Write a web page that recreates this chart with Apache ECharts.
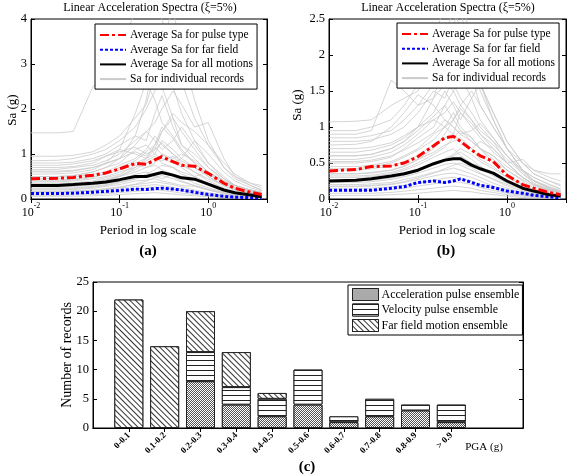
<!DOCTYPE html>
<html><head><meta charset="utf-8">
<script src="https://cdn.jsdelivr.net/npm/echarts@6/dist/echarts.min.js"></script>
<style>html,body{margin:0;padding:0;background:#fff}#c{width:568px;height:476px}</style>
</head><body><div id="c"></div>
<script>
// ---------- DATA ----------
const periods = [0.01,0.02,0.03,0.05,0.07,0.1,0.15,0.2,0.25,0.3,0.4,0.5,0.7,1,1.5,2,3,4];

// panel (a)
const avgPulseA = [0.45,0.46,0.48,0.53,0.58,0.67,0.79,0.77,0.87,0.94,0.83,0.75,0.73,0.57,0.35,0.24,0.15,0.10];
const avgFarA   = [0.12,0.12,0.13,0.15,0.17,0.19,0.22,0.21,0.23,0.24,0.22,0.20,0.15,0.10,0.06,0.04,0.03,0.02];
const avgAllA   = [0.30,0.30,0.32,0.35,0.38,0.43,0.50,0.50,0.55,0.59,0.53,0.47,0.44,0.33,0.20,0.14,0.09,0.05];
const recordsA = [
 [1.47,1.47,1.5,2.5,2.7,3.2,4.2,4.5,4.3,4.0,3.2,2.6,1.8,1.2,0.7,0.5,0.35,0.25],
 [0.85,0.86,0.9,1.0,1.1,1.3,1.6,2.0,2.4,2.9,2.5,1.9,1.3,0.8,0.45,0.3,0.18,0.12],
 [0.8,0.8,0.82,0.9,1.0,1.2,1.4,1.3,1.9,2.3,1.6,1.2,1.0,0.7,0.4,0.25,0.15,0.1],
 [0.7,0.7,0.72,0.8,0.95,1.1,1.9,2.6,2.2,1.7,1.4,1.1,0.8,0.5,0.3,0.2,0.12,0.08],
 [0.65,0.66,0.7,0.75,0.85,1.0,1.3,1.5,1.7,2.0,2.4,2.1,1.6,1.7,0.9,0.5,0.3,0.2],
 [0.6,0.6,0.62,0.7,0.8,0.9,1.2,1.5,1.3,1.1,1.3,1.6,1.2,0.8,0.5,0.3,0.2,0.15],
 [0.55,0.56,0.58,0.65,0.8,1.1,1.0,0.9,1.2,1.5,1.8,1.2,0.9,0.6,0.35,0.25,0.15,0.1],
 [0.5,0.5,0.52,0.6,0.7,0.8,1.1,1.2,1.0,0.9,0.8,0.9,1.3,1.0,0.6,0.4,0.25,0.18],
 [0.45,0.46,0.48,0.55,0.6,0.75,0.9,1.1,1.4,1.2,1.0,0.8,0.6,0.4,0.25,0.15,0.1,0.06],
 [0.42,0.42,0.44,0.5,0.55,0.65,0.8,0.9,1.0,1.3,1.1,0.9,0.7,0.5,0.3,0.2,0.12,0.08],
 [0.38,0.38,0.4,0.45,0.5,0.6,0.7,0.85,0.95,0.8,0.7,0.6,0.5,0.6,0.4,0.3,0.2,0.14],
 [0.35,0.35,0.36,0.4,0.48,0.55,0.75,0.7,0.8,1.0,0.85,0.7,0.5,0.35,0.2,0.12,0.08,0.05],
 [0.3,0.3,0.32,0.36,0.42,0.5,0.6,0.7,0.75,0.65,0.55,0.5,0.45,0.3,0.2,0.14,0.09,0.06],
 [0.27,0.27,0.28,0.31,0.35,0.42,0.55,0.6,0.5,0.45,0.55,0.5,0.35,0.25,0.15,0.1,0.06,0.04],
 [0.24,0.24,0.25,0.28,0.32,0.38,0.45,0.5,0.55,0.6,0.5,0.4,0.3,0.2,0.12,0.08,0.05,0.03],
 [0.2,0.2,0.21,0.24,0.28,0.32,0.4,0.42,0.45,0.4,0.35,0.3,0.28,0.2,0.12,0.08,0.05,0.03],
 [0.17,0.17,0.18,0.2,0.23,0.27,0.32,0.35,0.38,0.36,0.32,0.27,0.2,0.14,0.09,0.06,0.04,0.02],
 [0.14,0.14,0.15,0.17,0.2,0.24,0.28,0.3,0.32,0.3,0.26,0.22,0.17,0.11,0.07,0.05,0.03,0.02],
 [0.11,0.11,0.12,0.13,0.15,0.18,0.22,0.25,0.27,0.25,0.22,0.18,0.13,0.09,0.06,0.04,0.02,0.01],
 [0.08,0.08,0.09,0.1,0.12,0.14,0.17,0.19,0.2,0.19,0.16,0.13,0.1,0.07,0.04,0.03,0.02,0.01],
 [0.06,0.06,0.06,0.07,0.08,0.1,0.12,0.13,0.14,0.13,0.11,0.09,0.07,0.05,0.03,0.02,0.01,0.01],
 [0.95,0.95,0.97,1.05,1.2,1.4,1.8,2.1,2.8,3.5,4.2,3.3,2.2,1.3,0.7,0.45,0.3,0.2],
 [0.5,0.5,0.52,0.6,0.7,0.9,1.4,2.2,3.3,2.5,1.8,1.5,1.1,0.7,0.45,0.3,0.2,0.14],
 [0.3,0.3,0.31,0.35,0.4,0.5,0.7,0.9,1.1,1.5,1.9,1.7,1.5,1.2,0.8,0.55,0.35,0.3],
 [0.75,0.75,0.78,0.85,0.95,1.05,1.15,1.0,1.1,1.25,1.0,0.85,0.7,0.55,0.35,0.22,0.14,0.1],
 [0.62,0.62,0.64,0.7,0.78,0.9,1.05,0.95,1.15,1.0,0.9,1.0,0.85,0.6,0.4,0.3,0.2,0.15],
 [0.4,0.4,0.42,0.48,0.56,0.7,0.85,1.05,1.2,1.6,1.35,1.05,0.8,0.55,0.35,0.25,0.16,0.11],
 [0.33,0.33,0.34,0.38,0.44,0.52,0.65,0.8,0.9,0.85,0.95,0.75,0.6,0.45,0.3,0.2,0.13,0.09],
 [0.22,0.22,0.23,0.26,0.3,0.36,0.44,0.55,0.65,0.75,0.7,0.55,0.45,0.32,0.2,0.14,0.09,0.06],
 [0.16,0.16,0.17,0.19,0.22,0.26,0.33,0.4,0.48,0.52,0.45,0.38,0.3,0.22,0.14,0.1,0.06,0.04]
];

// panel (b)
const avgPulseB = [0.39,0.41,0.45,0.46,0.50,0.59,0.74,0.85,0.87,0.80,0.68,0.60,0.52,0.33,0.20,0.15,0.09,0.06];
const avgFarB   = [0.12,0.12,0.12,0.15,0.17,0.23,0.25,0.23,0.25,0.28,0.23,0.19,0.16,0.11,0.08,0.05,0.03,0.01];
const avgAllB   = [0.25,0.26,0.28,0.32,0.35,0.40,0.49,0.54,0.56,0.56,0.47,0.42,0.36,0.25,0.15,0.11,0.06,0.04];
const recordsB = [
 [1.07,1.08,1.1,1.3,1.4,1.5,1.9,2.3,2.6,2.4,2.0,1.6,1.1,0.7,0.4,0.3,0.2,0.14],
 [0.9,0.9,0.95,1.65,1.5,1.3,1.4,1.6,1.5,1.3,1.1,0.9,0.7,0.5,0.3,0.2,0.12,0.08],
 [0.85,0.85,0.88,0.95,1.1,1.3,1.6,1.8,1.6,1.4,1.2,1.0,0.8,0.5,0.3,0.2,0.12,0.08],
 [0.8,0.8,0.82,0.9,1.0,1.2,1.5,1.4,1.7,2.1,1.7,1.3,1.0,0.7,0.4,0.25,0.15,0.1],
 [0.65,0.65,0.68,0.75,0.85,1.0,1.2,1.5,1.3,1.1,1.4,1.6,1.2,0.8,0.5,0.35,0.25,0.2],
 [0.6,0.6,0.62,0.7,0.8,0.95,1.15,1.3,1.5,1.7,1.4,1.1,0.85,0.6,0.35,0.22,0.14,0.1],
 [0.55,0.55,0.58,0.65,0.75,0.9,1.1,1.0,0.9,1.2,1.0,0.85,0.65,0.5,0.55,0.4,0.3,0.25],
 [0.5,0.5,0.52,0.58,0.7,0.85,1.0,1.3,1.1,0.95,0.8,0.7,0.6,0.4,0.25,0.15,0.1,0.06],
 [0.45,0.45,0.47,0.52,0.6,0.7,0.9,1.0,1.2,1.0,0.85,0.7,0.5,0.35,0.2,0.13,0.08,0.05],
 [0.4,0.4,0.42,0.46,0.52,0.6,0.75,0.85,0.9,0.8,0.7,0.8,0.7,0.5,0.3,0.2,0.12,0.08],
 [0.35,0.35,0.37,0.4,0.46,0.55,0.65,0.75,0.8,0.85,0.7,0.55,0.45,0.3,0.2,0.12,0.08,0.05],
 [0.3,0.3,0.31,0.35,0.4,0.47,0.58,0.65,0.7,0.6,0.5,0.45,0.35,0.25,0.15,0.1,0.07,0.05],
 [0.27,0.27,0.28,0.31,0.36,0.42,0.5,0.55,0.6,0.65,0.55,0.45,0.32,0.22,0.14,0.09,0.06,0.04],
 [0.23,0.23,0.24,0.27,0.31,0.36,0.43,0.48,0.5,0.47,0.4,0.35,0.27,0.18,0.11,0.07,0.05,0.03],
 [0.2,0.2,0.21,0.23,0.27,0.31,0.37,0.4,0.43,0.4,0.35,0.3,0.22,0.15,0.09,0.06,0.04,0.02],
 [0.17,0.17,0.18,0.2,0.23,0.27,0.32,0.35,0.36,0.34,0.3,0.25,0.18,0.12,0.08,0.05,0.03,0.02],
 [0.14,0.14,0.15,0.17,0.19,0.22,0.26,0.29,0.3,0.28,0.25,0.2,0.15,0.1,0.06,0.04,0.02,0.01],
 [0.11,0.11,0.12,0.13,0.15,0.18,0.21,0.23,0.24,0.23,0.2,0.16,0.12,0.08,0.05,0.03,0.02,0.01],
 [0.08,0.08,0.08,0.09,0.11,0.13,0.15,0.17,0.18,0.17,0.15,0.12,0.09,0.06,0.04,0.02,0.01,0.01],
 [0.05,0.05,0.05,0.06,0.07,0.08,0.1,0.11,0.12,0.11,0.1,0.08,0.06,0.04,0.02,0.01,0.01,0.01],
 [0.95,0.95,1.0,1.1,1.3,1.6,2.2,2.7,2.9,2.6,2.0,1.5,1.1,0.7,0.4,0.25,0.15,0.1],
 [0.6,0.6,0.62,0.7,0.8,1.0,1.4,1.9,2.4,2.8,2.2,1.6,1.2,0.8,0.5,0.35,0.25,0.18],
 [0.75,0.76,0.8,1.0,1.2,1.45,1.3,1.1,1.0,0.9,0.8,0.7,0.6,0.45,0.3,0.2,0.13,0.09],
 [0.35,0.35,0.36,0.4,0.45,0.55,0.7,0.9,1.1,1.3,1.5,1.3,1.0,0.7,0.5,0.4,0.35,0.35],
 [0.7,0.7,0.72,0.78,0.88,1.0,1.1,1.2,1.35,1.2,1.05,0.9,0.75,0.55,0.35,0.25,0.16,0.11],
 [0.42,0.42,0.44,0.5,0.58,0.68,0.82,1.0,1.1,1.25,1.1,0.95,0.8,0.6,0.4,0.3,0.2,0.14],
 [0.32,0.32,0.33,0.37,0.42,0.5,0.62,0.72,0.85,0.95,0.85,0.7,0.55,0.4,0.27,0.18,0.12,0.08],
 [0.25,0.25,0.26,0.29,0.33,0.39,0.47,0.56,0.62,0.7,0.62,0.52,0.42,0.3,0.2,0.13,0.08,0.05],
 [0.18,0.18,0.19,0.21,0.24,0.29,0.36,0.42,0.47,0.5,0.44,0.36,0.28,0.2,0.13,0.08,0.05,0.03],
 [0.52,0.52,0.54,0.6,0.68,0.78,0.92,1.1,1.0,0.9,0.95,1.05,0.85,0.6,0.38,0.26,0.17,0.12]
];

// panel (c)
const pgaBins  = ['0-0.1','0.1-0.2','0.2-0.3','0.3-0.4','0.4-0.5','0.5-0.6','0.6-0.7','0.7-0.8','0.8-0.9','> 0.9'];
const accPulse = [0,0,8,4,2,4,1,2,3,1];
const velPulse = [0,0,5,3,3,6,1,3,1,3];
const farField = [22,14,7,6,1,0,0,0,0,0];

const legendLines = ['Average Sa for pulse type','Average Sa for far field','Average Sa for all motions','Sa for individual records'];
const legendBars  = ['Acceleration pulse ensemble','Velocity pulse ensemble','Far field motion ensemble'];

// ---------- BUILD ----------
const SERIF = "'Liberation Serif','DejaVu Serif',serif";
const chart = echarts.init(document.getElementById('c'), null, {renderer:'canvas'});
const pair = arr => periods.map((t,i)=>[t,arr[i]]);

function logLabel(v){
  const e = Math.round(Math.log10(v));
  if (Math.abs(v - Math.pow(10,e))/v > 0.01) return '';
  return '{b|10}{s|' + e + '}';
}
const logRich = {
  b:{fontFamily:SERIF,fontSize:12,color:'#000',verticalAlign:'bottom',lineHeight:17},
  s:{fontFamily:SERIF,fontSize:8,color:'#000',verticalAlign:'top',lineHeight:9}
};
const axLine = {show:true,lineStyle:{color:'#000',width:1}};
function logX(grid, top){
  return {gridIndex:grid,type:'log',logBase:10,min:0.01,max:4.6,position:top?'top':'bottom',
    axisLine:axLine,axisTick:{show:true,inside:true,length:4,lineStyle:{color:'#000'}},
    axisLabel:top?{show:false}:{show:true,formatter:logLabel,rich:logRich,margin:3,showMaxLabel:false},
    splitLine:{show:false},minorTick:{show:false}};
}
function valY(grid,max,interval,right,labelFmt){
  return {gridIndex:grid,type:'value',min:0,max:max,interval:interval,position:right?'right':'left',
    axisLine:axLine,axisTick:{show:true,inside:true,length:4,lineStyle:{color:'#000'}},
    axisLabel:right?{show:false}:{show:true,color:'#000',fontFamily:SERIF,fontSize:12.5,margin:4,formatter:labelFmt},
    splitLine:{show:false}};
}
const cats = [''].concat(pgaBins, ['','']);
const pad = arr => ['-'].concat(arr.map(v=>v===0?'-':v), ['-','-']);
const tickFn = (i)=> i>=1 && i<=pgaBins.length;
function catX(top){
  return {gridIndex:2,type:'category',data:cats,boundaryGap:false,position:top?'top':'bottom',
    axisLine:axLine,axisTick:{show:true,inside:true,length:4,interval:tickFn,lineStyle:{color:'#000'}},
    axisLabel:top?{show:false}:{show:true,interval:0,rotate:45,color:'#000',fontFamily:SERIF,fontSize:9,fontWeight:'bold',margin:6},
    splitLine:{show:false}};
}

const series = [];
function addPanel(xi, yi, recs, pulse, far, all){
  recs.forEach(r=>series.push({name:legendLines[3],type:'line',xAxisIndex:xi,yAxisIndex:yi,data:pair(r),
    symbol:'none',silent:true,z:1,itemStyle:{color:'#c8c8c8'},lineStyle:{color:'#cacaca',width:0.8}}));
  series.push({name:legendLines[1],type:'line',xAxisIndex:xi,yAxisIndex:yi,data:pair(far),symbol:'none',z:3,
    itemStyle:{color:'#0000ff'},lineStyle:{color:'#0000ff',width:3,type:[3,2]}});
  series.push({name:legendLines[2],type:'line',xAxisIndex:xi,yAxisIndex:yi,data:pair(all),symbol:'none',z:3,
    itemStyle:{color:'#000'},lineStyle:{color:'#000',width:3}});
  series.push({name:legendLines[0],type:'line',xAxisIndex:xi,yAxisIndex:yi,data:pair(pulse),symbol:'none',z:4,
    itemStyle:{color:'#ff0000'},lineStyle:{color:'#ff0000',width:3,type:[9,3,3,3]}});
}
addPanel(0,0,recordsA,avgPulseA,avgFarA,avgAllA);
addPanel(2,2,recordsB,avgPulseB,avgFarB,avgAllB);

const decAcc = {symbol:'rect',symbolSize:1,color:'#555',backgroundColor:'#fff',dashArrayX:[[1,1],[0,1,1,0]],dashArrayY:[1,0],rotation:0};
const decVel = {symbol:'rect',symbolSize:1,color:'#222',backgroundColor:'#fff',dashArrayX:[1,0],dashArrayY:[1,3.5],rotation:0};
const decFar = {symbol:'rect',symbolSize:1,color:'#333',backgroundColor:'#fff',dashArrayX:[1,0],dashArrayY:[1,2.5],rotation:Math.PI/4};
[[legendBars[0],accPulse,decAcc],[legendBars[1],velPulse,decVel],[legendBars[2],farField,decFar]].forEach(([n,d,dec])=>{
  series.push({name:n,type:'bar',stack:'pga',xAxisIndex:4,yAxisIndex:4,data:pad(d),barWidth:29,
    itemStyle:{color:'#fff',borderColor:'#222',borderWidth:1,decal:dec}});
});

function lineLegend(left,top){
  return {data:legendLines,orient:'vertical',left:left,top:top,itemWidth:26,itemHeight:14,itemGap:2.7,
    padding:[5,4,4,4],backgroundColor:'#fff',borderColor:'#000',borderWidth:1,selectedMode:false,
    itemStyle:{opacity:0},
    textStyle:{fontFamily:SERIF,fontSize:11.5,color:'#000',padding:[0,0,0,-1]}};
}

const txt = (x,y,t,opt={}) => ({type:'text',x:x,y:y,z:100,style:{text:t,fill:'#000',
  font:`${opt.weight||'normal'} ${opt.size||12}px ${SERIF}`,textAlign:'center',textVerticalAlign:'middle'},rotation:opt.rot||0});

chart.setOption({
  animation:false,
  backgroundColor:'#fff',
  grid:[
    {left:31,top:19,width:236,height:180,show:true,borderColor:'#000',borderWidth:1,backgroundColor:'#fff'},
    {left:329,top:19,width:237,height:180,show:true,borderColor:'#000',borderWidth:1,backgroundColor:'#fff'},
    {left:93,top:282,width:430,height:146,show:true,borderColor:'#000',borderWidth:1,backgroundColor:'#fff'}
  ],
  xAxis:[logX(0,false),logX(0,true),logX(1,false),logX(1,true),catX(false),catX(true)],
  yAxis:[valY(0,4,1,false),valY(0,4,1,true),valY(1,2.5,0.5,false),valY(1,2.5,0.5,true),valY(2,25,5,false),valY(2,25,5,true)],
  legend:[
    lineLegend(95,24),
    lineLegend(397,23),
    {data:legendBars,orient:'vertical',left:348,top:285,itemWidth:26,itemHeight:12,itemGap:2.5,icon:'rect',
     padding:[3,3,3,4],backgroundColor:'#fff',borderColor:'#000',borderWidth:1,selectedMode:false,
     itemStyle:{borderColor:'#222',borderWidth:1},
     textStyle:{fontFamily:SERIF,fontSize:12,color:'#000',padding:[0,0,0,-2]}}
  ],
  graphic:[
    txt(150,8,'Linear Acceleration Spectra (ξ=5%)',{size:12}),
    txt(448,8,'Linear Acceleration Spectra (ξ=5%)',{size:12}),
    txt(148,231,'Period in log scale',{size:13}),
    txt(447,231,'Period in log scale',{size:13}),
    txt(148,251,'(a)',{size:15,weight:'bold'}),
    txt(446,251,'(b)',{size:15,weight:'bold'}),
    txt(307,467,'(c)',{size:15,weight:'bold'}),
    txt(13,110,'Sa (g)',{size:13,rot:Math.PI/2}),
    txt(298,105,'Sa (g)',{size:13,rot:Math.PI/2}),
    txt(67,355,'Number of records',{size:14,rot:Math.PI/2}),
    txt(484,447,'PGA (g)',{size:11})
  ],
  series:series
});
</script></body></html>
